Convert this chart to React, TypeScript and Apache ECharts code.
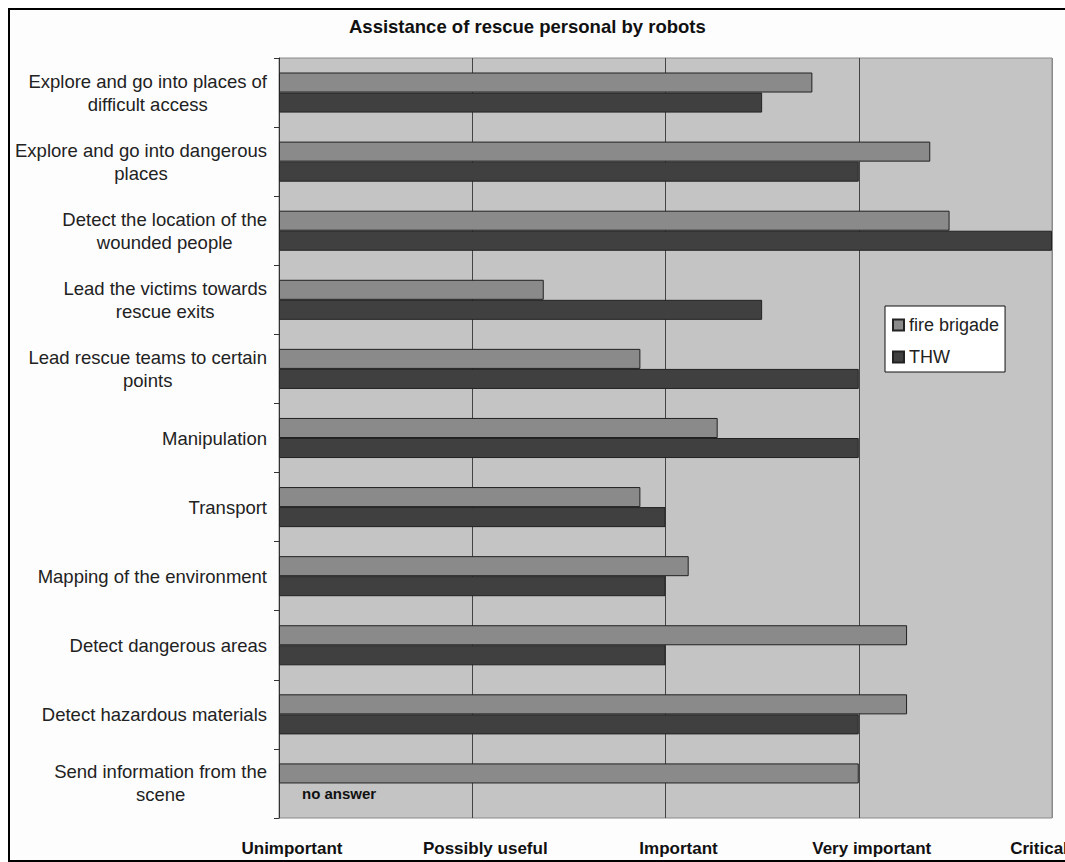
import React, { useEffect, useRef } from "react";
import * as echarts from "echarts";

const titleText = "Assistance of rescue personal by robots";
const categories = [
  "Explore and go into places of\ndifficult access",
  "Explore and go into dangerous\nplaces",
  "Detect the location of the\nwounded people",
  "Lead the victims towards\nrescue exits",
  "Lead rescue teams to certain\npoints",
  "Manipulation",
  "Transport",
  "Mapping of the environment",
  "Detect dangerous areas",
  "Detect hazardous materials",
  "Send information from the\nscene",
];
const seriesNames = ["fire brigade", "THW"];
const fireBrigade = [2.76, 3.37, 3.47, 1.37, 1.87, 2.27, 1.87, 2.12, 3.25, 3.25, 3.0];
const thw: (number | null)[] = [2.5, 3, 4, 2.5, 3, 3, 2, 2, 2, 3, null];
const noAnswerText = "no answer";
const scaleLabels = ["Unimportant", "Possibly useful", "Important", "Very important", "Critical"];

const SANS = '"Liberation Sans", Arial, sans-serif';

export default function App() {
  const ref = useRef<HTMLDivElement>(null);
  useEffect(() => {
    if (!ref.current) return;
    const chart = echarts.init(ref.current, null, { renderer: "svg" });
    const thwData = thw.map((v) =>
      v === null
        ? {
            value: 0,
            itemStyle: { borderWidth: 0 },
            label: {
              show: true,
              position: "right",
              distance: 23,
              formatter: noAnswerText,
              fontFamily: SANS,
              fontWeight: "bold",
              fontSize: 15,
              color: "#111",
            },
          }
        : v
    );
    chart.setOption({
      animation: false,
      backgroundColor: "#fdfdfd",
      title: {
        text: titleText,
        left: 334,
        top: 2,
        textStyle: { fontFamily: SANS, fontWeight: "bold", fontSize: 18.5, color: "#111" },
      },
      legend: {
        orient: "vertical",
        left: 875,
        top: 296,
        backgroundColor: "#fff",
        borderColor: "#111",
        borderWidth: 1,
        padding: [10, 6, 6, 7],
        itemGap: 14,
        itemWidth: 11,
        itemHeight: 11,
        icon: "rect",
        selectedMode: false,
        textStyle: { fontFamily: SANS, fontSize: 18, color: "#222" },
        data: seriesNames,
      },
      grid: {
        left: 269,
        top: 48,
        right: 13,
        bottom: 42,
        containLabel: false,
        outerBoundsMode: "none",
        show: true,
        backgroundColor: "#c4c4c4",
        borderColor: "#8a8a8a",
        borderWidth: 1,
      },
      xAxis: {
        type: "value",
        min: 0,
        max: 4,
        interval: 1,
        axisLine: { show: false },
        axisTick: { show: false },
        splitLine: {
          show: true,
          lineStyle: { color: ["#333", "#444", "#444", "#444", "#8a8a8a"], width: 1 },
        },
        axisLabel: {
          margin: 22,
          formatter: (v: number) => {
            const t = scaleLabels[Math.round(v)] ?? "";
            return Math.round(v) === 4 ? `{c|${t}}` : `{u|${t}}`;
          },
          rich: {
            u: { padding: [0, 0, 0, 26], fontFamily: SANS, fontWeight: "bold", fontSize: 17, color: "#111" },
            c: { padding: [0, 26, 0, 0], fontFamily: SANS, fontWeight: "bold", fontSize: 17, color: "#111" },
          },
        },
      },
      yAxis: {
        type: "category",
        inverse: true,
        data: categories,
        axisLine: { show: true, lineStyle: { color: "#333", width: 1 } },
        axisTick: { show: true, length: 5, lineStyle: { color: "#333" } },
        axisLabel: {
          margin: 12,
          align: "right",
          formatter: (v: string) =>
            v
              .split("\n")
              .map((l) => `{c|${l}}`)
              .join("\n"),
          rich: {
            c: { align: "center", fontFamily: SANS, fontSize: 18.5, lineHeight: 23, color: "#222" },
          },
        },
      },
      series: [
        {
          name: seriesNames[0],
          type: "bar",
          data: fireBrigade,
          barGap: "0%",
          barCategoryGap: "42%",
          itemStyle: { color: "#8a8a8a", borderColor: "#222", borderWidth: 1 },
        },
        {
          name: seriesNames[1],
          type: "bar",
          data: thwData,
          barGap: "0%",
          barCategoryGap: "42%",
          itemStyle: { color: "#404040", borderColor: "#222", borderWidth: 1 },
        },
      ],
    });
    return () => chart.dispose();
  }, []);
  return (
    <div
      style={{
        position: "absolute",
        left: 8,
        top: 8,
        width: 1055,
        height: 850,
        borderLeft: "2px solid #000",
        borderTop: "2px solid #000",
        borderBottom: "2px solid #000",
        overflow: "hidden",
        boxSizing: "content-box",
      }}
    >
      <div ref={ref} style={{ width: 1055, height: 850 }} />
    </div>
  );
}
